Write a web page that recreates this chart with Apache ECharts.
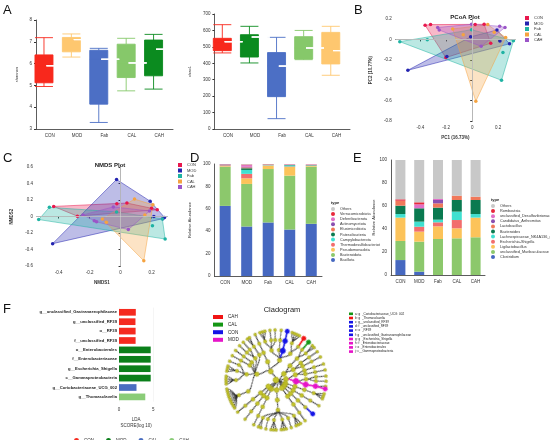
<!DOCTYPE html>
<html>
<head>
<meta charset="utf-8">
<script src="https://cdn.jsdelivr.net/npm/echarts@6/dist/echarts.min.js"></script>
<style>
  body { margin: 0; background: #fff; font-family: 'Liberation Sans', Arial, sans-serif; }
  #wrap { position: relative; width: 550px; height: 440px; overflow: hidden; }
  .p { position: absolute; }
  .lt { position: absolute; font-size: 13px; line-height: 13px; color: #111; }
  #pt { transform: rotate(-127deg); transform-origin: 50% 50%; }
</style>
</head>
<body>
<div id="wrap">
  <div class="p" id="a1" style="left:0;top:0;width:180px;height:145px"></div>
  <div class="p" id="a2" style="left:180px;top:0;width:180px;height:145px"></div>
  <div class="p" id="pb" style="left:360px;top:0;width:190px;height:145px"></div>
  <div class="p" id="pc" style="left:0;top:145px;width:205px;height:145px"></div>
  <div class="p" id="pd" style="left:180px;top:145px;width:200px;height:140px"></div>
  <div class="p" id="pe" style="left:360px;top:145px;width:190px;height:140px"></div>
  <div class="p" id="pf" style="left:0;top:285px;width:200px;height:155px"></div>
  <div class="p" id="pg" style="left:200px;top:285px;width:350px;height:155px"></div>
  <div class="p" id="pt" style="left:223.7px;top:328px;width:104px;height:104px"></div>
  <div class="lt" style="left:3px;top:3px">A</div>
  <div class="lt" style="left:354px;top:3px">B</div>
  <div class="lt" style="left:3px;top:151px">C</div>
  <div class="lt" style="left:190px;top:151px">D</div>
  <div class="lt" style="left:353px;top:151px">E</div>
  <div class="lt" style="left:3px;top:302px">F</div>
</div>
<script>
// ---- alpha diversity (min, Q1, median, Q3, max)
var groups = ['CON', 'MOD', 'Fab', 'CAL', 'CAH'];
var shannon = [[4.95, 5.12, 5.9, 6.4, 7.19], [6.3, 6.54, 7.1, 7.2, 7.36], [3.3, 4.14, 6.2, 6.61, 6.7], [4.75, 5.36, 6.03, 6.89, 7.16], [4.83, 5.44, 6.66, 7.08, 7.34]];
var shannonColors = ['#f8281c', '#fec76f', '#4c6fc5', '#86c86a', '#0b8b1f'];
var chao1 = [[463, 477, 531, 552, 635], [402, 438, 560, 574, 625], [63, 197, 383, 465, 558], [422, 426, 493, 562, 600], [327, 396, 477, 588, 625]];
var chaoColors = ['#f8281c', '#0b8b1f', '#4c6fc5', '#86c86a', '#fec76f'];

// ---- ordination points per group
var ordColors = ['#e8174d', '#2424b0', '#1fb3a3', '#f5a340', '#9b55c8'];
var pcoaCON = [[-0.363, 0.139], [-0.321, 0.145], [0.023, 0.145], [0.092, 0.148], [0.143, -0.037], [-0.203, -0.178]];
var pcoaMOD = [[-0.496, -0.302], [-0.012, 0.025], [0.191, 0.092], [0.214, -0.016], [0.288, -0.043], [-0.195, -0.168]];
var pcoaFab = [[-0.558, -0.022], [-0.346, -0.003], [-0.005, 0.095], [0.318, -0.013], [0.237, -0.129], [0.226, -0.4]];
var pcoaCAL = [[-0.15, 0.102], [-0.069, 0.046], [0.12, 0.145], [0.028, -0.606], [0.258, 0.018], [0.17, 0.07]];
var pcoaCAH = [[-0.266, 0.117], [-0.254, 0.092], [0.212, 0.129], [0.253, 0.117], [0.069, -0.068], [-0.005, 0.148]];
var nmdsCON = [[-0.432, 0.122], [-0.279, 0.004], [-0.024, 0.156], [0.041, 0.163], [0.237, 0.082], [0.2, 0.1]];
var nmdsMOD = [[-0.026, 0.449], [-0.439, -0.329], [0.191, 0.186], [0.215, 0], [0.273, -0.026], [0.284, -0.011]];
var nmdsFab = [[-0.529, -0.037], [-0.46, 0.111], [-0.026, 0.056], [0.288, -0.273], [0.206, -0.111], [0.27, -0.03]];
var nmdsCAL = [[0.09, 0.211], [-0.118, -0.029], [-0.092, -0.07], [0.157, 0.019], [0.15, -0.537], [0.209, 0.141]];
var nmdsCAH = [[-0.047, 0.116], [-0.243, 0.019], [0.05, -0.159], [0.187, 0.067], [-0.17, -0.05], [-0.155, -0.065]];

// ---- phylum relative abundance (%), bottom of stack first
var phyla = ['Bacillota', 'Bacteroidota', 'Pseudomonadota', 'Thermodesulfobacteriota', 'Campylobacterota', 'Patescibacteria', 'Elusimicrobiota', 'Actinomycetota', 'Deferribacterota', 'Verrucomicrobiota', 'Others'];
var phylumValues = [
  [62.6, 44.2, 47.8, 41.5, 46.6],
  [35.0, 38.0, 47.7, 48.1, 51.0],
  [0.5, 5.0, 3.0, 7.7, 0.6],
  [0.8, 4.0, 0.3, 0.5, 0.4],
  [0.3, 3.5, 0.3, 1.0, 0.3],
  [0.2, 1.5, 0.2, 0.4, 0.2],
  [0.1, 0.8, 0.3, 0.2, 0.2],
  [0.1, 0.5, 0.1, 0.1, 0.1],
  [0.3, 1.5, 0.1, 0.3, 0.3],
  [0.1, 0.5, 0.1, 0.1, 0.1],
  [0.0, 0.5, 0.1, 0.1, 0.2]
];
// ---- genus relative abundance (%), bottom of stack first
var genera = ['Clostridium', 'unclassified_Muribaculaceae', 'Ligilactobacillus', 'Escherichia-Shigella', 'Lachnospiraceae_NK4A136_group', 'Bacteroides', 'Lactobacillus', 'Candidatus_Arthromitus', 'unclassified_Desulfovibrionaceae', 'Romboutsia', 'Others'];
var genusValues = [
  [13.0, 2.9, 0, 0, 0],
  [16.6, 26.1, 31.3, 31.9, 32.8],
  [20.3, 8.7, 11.0, 8.7, 17.1],
  [0, 4.3, 3.5, 7.2, 0],
  [3.1, 4.4, 2.3, 7.3, 3.1],
  [7.3, 11.6, 10.5, 10.1, 12.2],
  [4.3, 0, 3.7, 3.8, 2.9],
  [0, 0, 2.9, 0, 0],
  [0, 3.4, 0.9, 0, 0],
  [1.2, 1.8, 0, 0, 0],
  [34.2, 36.8, 33.9, 31.0, 31.9]
];
var stackColors = ['#4668c0', '#8cc86c', '#fcc35a', '#f26d6d', '#40e0d0', '#0a7a50', '#f0785a', '#8a4fb0', '#e070c8', '#e8283c', '#c8c8c8'];

// ---- LEfSe
var ldaFeatures = ['g__unclassified_Gastranaerophilaceae', 'g__unclassified_RF39', 'o__RF39', 'f__unclassified_RF39', 'o__Enterobacterales', 'f__Enterobacteriaceae', 'g__Escherichia_Shigella', 'c__Gammaproteobacteria', 'g__Coriobacteriaceae_UCG_002', 'g__Thomasclavelia'];
var ldaScores = [2.45, 2.4, 2.42, 2.42, 4.62, 4.62, 4.6, 4.62, 2.55, 3.83];
var ldaGroup = ['CON', 'CON', 'CON', 'CON', 'MOD', 'MOD', 'MOD', 'MOD', 'CAL', 'CAH'];
var ldaGroups = ['CON', 'MOD', 'CAL', 'CAH'];
var ldaColors = ['#f52a1f', '#0a7f1a', '#4a6dc0', '#8acc78'];

// ---- cladogram: lineages (phylum/class/order/family/genus)
var lineages = [
  'p__Bacillota/c__Clostridia/o__Lachnospirales/f__Lachnospiraceae/g__Lachnospiraceae_NK4A136_group',
  'p__Bacillota/c__Clostridia/o__Lachnospirales/f__Lachnospiraceae/g__Roseburia',
  'p__Bacillota/c__Clostridia/o__Lachnospirales/f__Lachnospiraceae/g__Blautia',
  'p__Bacillota/c__Clostridia/o__Lachnospirales/f__Lachnospiraceae/g__Dorea',
  'p__Bacillota/c__Clostridia/o__Lachnospirales/f__Lachnospiraceae/g__Lachnoclostridium',
  'p__Bacillota/c__Clostridia/o__Lachnospirales/f__Lachnospiraceae/g__Tyzzerella',
  'p__Bacillota/c__Clostridia/o__Lachnospirales/f__Lachnospiraceae/g__Anaerostipes',
  'p__Bacillota/c__Clostridia/o__Lachnospirales/f__Lachnospiraceae/g__Acetatifactor',
  'p__Bacillota/c__Clostridia/o__Lachnospirales/f__Lachnospiraceae/g__unclassified_Lachnospiraceae',
  'p__Bacillota/c__Clostridia/o__Oscillospirales/f__Oscillospiraceae/g__Oscillibacter',
  'p__Bacillota/c__Clostridia/o__Oscillospirales/f__Oscillospiraceae/g__Colidextribacter',
  'p__Bacillota/c__Clostridia/o__Oscillospirales/f__Oscillospiraceae/g__Intestinimonas',
  'p__Bacillota/c__Clostridia/o__Oscillospirales/f__Oscillospiraceae/g__NK4A214_group',
  'p__Bacillota/c__Clostridia/o__Oscillospirales/f__Ruminococcaceae/g__Ruminococcus',
  'p__Bacillota/c__Clostridia/o__Oscillospirales/f__Ruminococcaceae/g__Faecalibacterium',
  'p__Bacillota/c__Clostridia/o__Oscillospirales/f__Ruminococcaceae/g__Anaerotruncus',
  'p__Bacillota/c__Clostridia/o__Oscillospirales/f__Butyricicoccaceae/g__Butyricicoccus',
  'p__Bacillota/c__Clostridia/o__Christensenellales/f__Christensenellaceae/g__Christensenellaceae_R_7_group',
  'p__Bacillota/c__Clostridia/o__Monoglobales/f__Monoglobaceae/g__Monoglobus',
  'p__Bacillota/c__Clostridia/o__Peptostreptococcales/f__Peptostreptococcaceae/g__Romboutsia',
  'p__Bacillota/c__Clostridia/o__Peptostreptococcales/f__Anaerovoracaceae/g__Family_XIII_AD3011_group',
  'p__Bacillota/c__Clostridia/o__Clostridiales/f__Clostridiaceae/g__Clostridium',
  'p__Bacillota/c__Clostridia/o__Clostridiales/f__Clostridiaceae/g__Candidatus_Arthromitus',
  'p__Bacillota/c__Negativicutes/o__Veillonellales/f__Veillonellaceae/g__Veillonella',
  'p__Bacillota/c__Bacilli/o__Lactobacillales/f__Lactobacillaceae/g__Lactobacillus',
  'p__Bacillota/c__Bacilli/o__Lactobacillales/f__Lactobacillaceae/g__Ligilactobacillus',
  'p__Bacillota/c__Bacilli/o__Lactobacillales/f__Lactobacillaceae/g__Limosilactobacillus',
  'p__Bacillota/c__Bacilli/o__Lactobacillales/f__Streptococcaceae/g__Streptococcus',
  'p__Bacillota/c__Bacilli/o__Lactobacillales/f__Enterococcaceae/g__Enterococcus',
  'p__Bacillota/c__Bacilli/o__Acholeplasmatales/f__Acholeplasmataceae/g__Anaeroplasma',
  'p__Bacillota/c__Bacilli/o__RF39/f__unclassified_RF39/g__unclassified_RF39',
  'p__Bacillota/c__Bacilli/o__Erysipelotrichales/f__Erysipelotrichaceae/g__Turicibacter',
  'p__Bacillota/c__Bacilli/o__Erysipelotrichales/f__Erysipelotrichaceae/g__Dubosiella',
  'p__Bacillota/c__Bacilli/o__Erysipelotrichales/f__Erysipelotrichaceae/g__Faecalibaculum',
  'p__Bacillota/c__Bacilli/o__Erysipelotrichales/f__Erysipelotrichaceae/g__Allobaculum',
  'p__Bacillota/c__Bacilli/o__Erysipelotrichales/f__Coprobacillaceae/g__Thomasclavelia',
  'p__Actinomycetota/c__Coriobacteriia/o__Coriobacteriales/f__Coriobacteriaceae/g__Coriobacteriaceae_UCG_002',
  'p__Actinomycetota/c__Coriobacteriia/o__Coriobacteriales/f__Eggerthellaceae/g__Enterorhabdus',
  'p__Actinomycetota/c__Coriobacteriia/o__Coriobacteriales/f__Eggerthellaceae/g__Adlercreutzia',
  'p__Actinomycetota/c__Actinobacteria/o__Bifidobacteriales/f__Bifidobacteriaceae/g__Bifidobacterium',
  'p__Actinomycetota/c__Actinobacteria/o__Corynebacteriales/f__Corynebacteriaceae/g__Corynebacterium',
  'p__Pseudomonadota/c__Alphaproteobacteria/o__Rhodospirillales/f__uncultured/g__uncultured_Rhodospirillales',
  'p__Pseudomonadota/c__Alphaproteobacteria/o__Rickettsiales/f__Mitochondria/g__unclassified_Mitochondria',
  'p__Pseudomonadota/c__Gammaproteobacteria/o__Burkholderiales/f__Sutterellaceae/g__Parasutterella',
  'p__Pseudomonadota/c__Gammaproteobacteria/o__Burkholderiales/f__Oxalobacteraceae/g__Massilia',
  'p__Pseudomonadota/c__Gammaproteobacteria/o__Enterobacterales/f__Enterobacteriaceae/g__Klebsiella',
  'p__Pseudomonadota/c__Gammaproteobacteria/o__Enterobacterales/f__Enterobacteriaceae/g__Escherichia_Shigella',
  'p__Desulfobacterota/c__Desulfovibrionia/o__Desulfovibrionales/f__Desulfovibrionaceae/g__Desulfovibrio',
  'p__Desulfobacterota/c__Desulfovibrionia/o__Desulfovibrionales/f__Desulfovibrionaceae/g__Bilophila',
  'p__Desulfobacterota/c__Desulfovibrionia/o__Desulfovibrionales/f__Desulfovibrionaceae/g__unclassified_Desulfovibrionaceae',
  'p__Campylobacterota/c__Campylobacteria/o__Campylobacterales/f__Helicobacteraceae/g__Helicobacter',
  'p__Cyanobacteria/c__Vampirivibrionia/o__Gastranaerophilales/f__Gastranaerophilaceae/g__unclassified_Gastranaerophilaceae',
  'p__Deferribacterota/c__Deferribacteres/o__Deferribacterales/f__Deferribacteraceae/g__Mucispirillum',
  'p__Bacteroidota/c__Bacteroidia/o__Bacteroidales/f__Muribaculaceae/g__unclassified_Muribaculaceae',
  'p__Bacteroidota/c__Bacteroidia/o__Bacteroidales/f__Muribaculaceae/g__Muribaculum',
  'p__Bacteroidota/c__Bacteroidia/o__Bacteroidales/f__Muribaculaceae/g__Duncaniella',
  'p__Bacteroidota/c__Bacteroidia/o__Bacteroidales/f__Bacteroidaceae/g__Bacteroides',
  'p__Bacteroidota/c__Bacteroidia/o__Bacteroidales/f__Rikenellaceae/g__Alistipes',
  'p__Bacteroidota/c__Bacteroidia/o__Bacteroidales/f__Rikenellaceae/g__Rikenella',
  'p__Bacteroidota/c__Bacteroidia/o__Bacteroidales/f__Rikenellaceae/g__Rikenellaceae_RC9_gut_group',
  'p__Bacteroidota/c__Bacteroidia/o__Bacteroidales/f__Prevotellaceae/g__Prevotellaceae_UCG_001',
  'p__Bacteroidota/c__Bacteroidia/o__Bacteroidales/f__Prevotellaceae/g__Alloprevotella',
  'p__Bacteroidota/c__Bacteroidia/o__Bacteroidales/f__Prevotellaceae/g__Prevotellaceae_NK3B31_group',
  'p__Bacteroidota/c__Bacteroidia/o__Bacteroidales/f__Tannerellaceae/g__Parabacteroides',
  'p__Bacteroidota/c__Bacteroidia/o__Bacteroidales/f__Marinifilaceae/g__Odoribacter',
  'p__Bacteroidota/c__Bacteroidia/o__Bacteroidales/f__Marinifilaceae/g__Butyricimonas',
  'p__Patescibacteria/c__Saccharimonadia/o__Saccharimonadales/f__Saccharimonadaceae/g__Candidatus_Saccharimonas',
  'p__Elusimicrobiota/c__Elusimicrobia/o__Elusimicrobiales/f__Elusimicrobiaceae/g__Elusimicrobium',
  'p__Verrucomicrobiota/c__Verrucomicrobiae/o__Verrucomicrobiales/f__Akkermansiaceae/g__Akkermansia'
];
var cladoGroups = ['CAH', 'CAL', 'CON', 'MOD'];
var cladoColors = ['#f01414', '#149614', '#1414e6', '#e614c8'];
var cladoMarked = {
  'g__Coriobacteriaceae_UCG_002': 'CAL', 'g__Thomasclavelia': 'CAH',
  'g__unclassified_RF39': 'CON', 'f__unclassified_RF39': 'CON', 'o__RF39': 'CON', 'g__unclassified_Gastranaerophilaceae': 'CON',
  'g__Escherichia_Shigella': 'MOD', 'f__Enterobacteriaceae': 'MOD', 'o__Enterobacterales': 'MOD', 'c__Gammaproteobacteria': 'MOD'
};
var cladoKey = ['a: g__Coriobacteriaceae_UCG_002', 'b: g__Thomasclavelia', 'c: g__unclassified_RF39', 'd: f__unclassified_RF39', 'e: o__RF39', 'f: g__unclassified_Gastranaerophilaceae', 'g: g__Escherichia_Shigella', 'h: f__Enterobacteriaceae', 'i: o__Enterobacterales', 'j: c__Gammaproteobacteria'];

var FONT = 'Liberation Sans';
var AX = '#333';

function mk(id, opt) {
  var c = echarts.init(document.getElementById(id));
  opt.animation = false;
  opt.textStyle = { fontFamily: FONT };
  c.setOption(opt);
  return c;
}

// box plots: white median drawn by a second, flat boxplot
function boxOption(grid, vals, colors, yname, ymin, ymax, step, nameGap) {
  return {
    grid: grid,
    xAxis: {
      type: 'category', data: groups,
      axisLine: { lineStyle: { color: AX, width: 0.8 } },
      axisTick: { alignWithLabel: true, length: 2 },
      axisLabel: { fontSize: 4.5, color: AX, margin: 4 }
    },
    yAxis: {
      type: 'value', min: ymin, max: ymax, interval: step,
      name: yname, nameLocation: 'middle', nameGap: nameGap,
      nameTextStyle: { fontSize: 4, color: AX },
      splitLine: { show: false },
      axisLine: { show: true, lineStyle: { color: AX, width: 0.8 } },
      axisTick: { show: true, length: 2 },
      axisLabel: { fontSize: 4.5, color: AX, margin: 4 }
    },
    series: [
      {
        type: 'boxplot', boxWidth: [18, 18],
        data: vals.map(function (v, i) {
          return { value: v, itemStyle: { color: colors[i], borderColor: colors[i], borderWidth: 0.9 } };
        })
      },
      {
        type: 'boxplot', boxWidth: [18, 18], z: 3,
        itemStyle: { color: '#fff', borderColor: '#fff', borderWidth: 0.8 },
        data: vals.map(function (v) { return [v[2], v[2], v[2], v[2], v[2]]; })
      }
    ]
  };
}

mk('a1', boxOption({ left: 36, top: 20, width: 137, height: 109 }, shannon, shannonColors, 'shannon', 3, 8, 1, 9));
mk('a2', boxOption({ left: 27, top: 14, width: 143, height: 115 }, chao1, chaoColors, 'chao1', 0, 700, 100, 15));

function hull(pts) {
  var p = pts.slice().sort(function (a, b) { return a[0] - b[0] || a[1] - b[1]; });
  function cross(o, a, b) { return (a[0] - o[0]) * (b[1] - o[1]) - (a[1] - o[1]) * (b[0] - o[0]); }
  var lo = [], up = [];
  p.forEach(function (q) {
    while (lo.length >= 2 && cross(lo[lo.length - 2], lo[lo.length - 1], q) <= 0) lo.pop();
    lo.push(q);
  });
  p.slice().reverse().forEach(function (q) {
    while (up.length >= 2 && cross(up[up.length - 2], up[up.length - 1], q) <= 0) up.pop();
    up.push(q);
  });
  lo.pop(); up.pop();
  return lo.concat(up);
}

function ordOption(o) {
  var series = [];
  o.data.forEach(function (pts, i) {
    var col = ordColors[i];
    series.push({
      type: 'custom', name: groups[i], data: pts, silent: true, z: 1,
      encode: { x: 0, y: 1 }, itemStyle: { color: col },
      renderItem: function (params, api) {
        if (params.dataIndex !== 0) return null;
        return {
          type: 'polygon',
          shape: { points: hull(pts).map(function (p) { return api.coord(p); }) },
          style: { fill: echarts.color.modifyAlpha(col, 0.3), stroke: echarts.color.modifyAlpha(col, 0.85), lineWidth: 0.6 }
        };
      }
    });
  });
  o.data.forEach(function (pts, i) {
    var s = { type: 'scatter', name: groups[i], data: pts, symbolSize: 3.5, z: 4, itemStyle: { color: ordColors[i], opacity: 1 } };
    if (i === 0) {
      s.markLine = {
        silent: true, symbol: 'none', label: { show: false },
        lineStyle: { color: '#cfcfcf', type: 'solid', width: 0.8 },
        data: [{ xAxis: 0 }, { yAxis: 0 }]
      };
    }
    series.push(s);
  });
  return {
    title: { text: o.title, left: o.titleX, top: o.titleY, textAlign: 'center', textStyle: { fontSize: 6, fontWeight: 'bold', color: '#222' } },
    legend: {
      data: groups, orient: 'vertical', left: o.legX, top: o.legY, icon: 'rect',
      itemWidth: 4, itemHeight: 4, itemGap: 1.5, textStyle: { fontSize: 4, color: AX }
    },
    grid: o.grid,
    xAxis: {
      type: 'value', min: o.xmin, max: o.xmax, name: o.xname, nameLocation: 'middle', nameGap: o.xgap,
      nameTextStyle: { fontSize: 4.5, fontWeight: 'bold', color: AX },
      splitLine: { show: false }, axisLine: { show: true, lineStyle: { color: AX, width: 0.8 } },
      axisTick: { length: 2 },
      axisLabel: { fontSize: 4.5, color: AX, margin: 4, showMinLabel: false, showMaxLabel: false }
    },
    yAxis: {
      type: 'value', min: o.ymin, max: o.ymax, interval: 0.2, name: o.yname, nameLocation: 'middle', nameGap: o.ygap,
      nameTextStyle: { fontSize: 4.5, fontWeight: 'bold', color: AX },
      splitLine: { show: false }, axisLine: { show: true, lineStyle: { color: AX, width: 0.8 } },
      axisTick: { length: 2 },
      axisLabel: { fontSize: 4.5, color: AX, margin: 4 }
    },
    series: series
  };
}

mk('pb', ordOption({
  title: 'PCoA Plot', titleX: 100, titleY: 9,
  legX: 160, legY: 11,
  grid: { left: 21, top: 19, width: 134, height: 109 },
  xmin: -0.59, xmax: 0.33, ymin: -0.8, ymax: 0.2,
  xname: 'PC1 (16.73%)', xgap: 12, yname: 'PC2 (10.77%)', ygap: 13,
  data: [pcoaCON, pcoaMOD, pcoaFab, pcoaCAL, pcoaCAH]
}));

mk('pc', ordOption({
  title: 'NMDS Plot', titleX: 105, titleY: 12,
  legX: 173, legY: 13,
  grid: { left: 37, top: 22, width: 130, height: 110 },
  xmin: -0.54, xmax: 0.3, ymin: -0.6, ymax: 0.6,
  xname: 'NMDS1', xgap: 14, yname: 'NMDS2', ygap: 11,
  data: [nmdsCON, nmdsMOD, nmdsFab, nmdsCAL, nmdsCAH]
}));

function stackOption(o) {
  return {
    title: { text: 'type', left: o.legX, top: o.legY - 6, textStyle: { fontSize: 4, fontWeight: 'bold', color: '#222' } },
    legend: {
      data: o.names.slice().reverse(), orient: 'vertical', left: o.legX, top: o.legY, icon: 'circle',
      itemWidth: 4, itemHeight: 4, itemGap: 1.1, textStyle: { fontSize: 3.8, color: AX }
    },
    grid: o.grid,
    xAxis: {
      type: 'category', data: groups,
      axisLine: { lineStyle: { color: AX, width: 0.8 } },
      axisTick: { alignWithLabel: true, length: 2 },
      axisLabel: { fontSize: 4.5, color: AX, margin: 4 }
    },
    yAxis: {
      type: 'value', min: 0, max: 100, interval: 20, name: 'Relative Abundance', nameLocation: 'middle', nameGap: o.ygap,
      nameTextStyle: { fontSize: 4, color: AX },
      splitLine: { show: false }, axisLine: { show: true, lineStyle: { color: AX, width: 0.8 } },
      axisTick: { length: 2 },
      axisLabel: { fontSize: 4.5, color: AX, margin: 4 }
    },
    series: o.names.map(function (n, i) {
      return { type: 'bar', name: n, stack: 'ab', barWidth: o.barW, data: o.values[i], itemStyle: { color: stackColors[i] } };
    })
  };
}

mk('pd', stackOption({ names: phyla, values: phylumValues, grid: { left: 32, top: 19, width: 110, height: 112 }, barW: 11, legX: 146, legY: 57, ygap: 13 }));
mk('pe', stackOption({ names: genera, values: genusValues, grid: { left: 31, top: 15, width: 94, height: 115 }, barW: 10, legX: 126, legY: 54, ygap: 13 }));

// LEfSe bar chart
mk('pf', {
  legend: {
    data: ldaGroups, left: 69, top: 148, icon: 'circle', itemWidth: 5, itemHeight: 5, itemGap: 12,
    textStyle: { fontSize: 4.5, color: AX }
  },
  grid: { left: 119, top: 22.6, width: 34.3, height: 94 },
  xAxis: {
    type: 'value', min: 0, max: 5, interval: 5, name: 'LDA\nSCORE(log 10)', nameLocation: 'middle', nameGap: 14,
    nameTextStyle: { fontSize: 4.5, color: AX, lineHeight: 5.5 },
    axisLine: { show: false }, axisTick: { show: false },
    splitLine: { show: true, lineStyle: { color: '#eeeeee', width: 0.6 } },
    axisLabel: { fontSize: 4.5, color: AX, margin: 6 }
  },
  yAxis: {
    type: 'category', data: ldaFeatures, inverse: true,
    axisLine: { show: false }, axisTick: { show: false },
    axisLabel: { fontSize: 4.2, fontWeight: 'bold', color: '#222', margin: 2 }
  },
  series: ldaGroups.map(function (g, k) {
    return {
      type: 'bar', name: g, barWidth: 6.7, barGap: '-100%', itemStyle: { color: ldaColors[k] },
      data: ldaScores.map(function (v, i) { return ldaGroup[i] === g ? v : '-'; })
    };
  })
});

// cladogram built from the lineage list
function buildTree() {
  var root = { name: 'Bacteria', children: [] };
  lineages.forEach(function (l) {
    var node = root;
    l.split('/').forEach(function (n) {
      var c = node.children.filter(function (x) { return x.name === n; })[0];
      if (!c) { c = { name: n, children: [] }; node.children.push(c); }
      node = c;
    });
  });
  var sizes = [6, 5, 4.5, 4, 3.5, 3];
  (function style(n, d) {
    var g = cladoMarked[n.name];
    var col = g ? cladoColors[cladoGroups.indexOf(g)] : '#c4c42a';
    n.symbolSize = sizes[d] + (g ? 1.5 : 0);
    n.itemStyle = { color: col, borderColor: g ? col : '#8c8c14', borderWidth: 0.4 };
    if (g && d > 0) n.lineStyle = { color: col, width: 1.6 };
    if (n.children.length) n.children.forEach(function (c) { style(c, d + 1); });
    else delete n.children;
  })(root, 0);
  return root;
}

var cladoGraphic = [];
cladoGroups.forEach(function (g, i) {
  cladoGraphic.push({ type: 'rect', left: 13, top: 30 + i * 7.6, shape: { width: 10, height: 4 }, style: { fill: cladoColors[i] } });
  cladoGraphic.push({ type: 'text', left: 28, top: 29.6 + i * 7.6, style: { text: g, fontSize: 4.6, fill: '#222', fontFamily: FONT } });
});
cladoKey.forEach(function (t, i) {
  var g = cladoMarked[t.split(': ')[1]];
  cladoGraphic.push({ type: 'rect', left: 149, top: 27.5 + i * 4.2, shape: { width: 4, height: 2.6 }, style: { fill: cladoColors[cladoGroups.indexOf(g)] } });
  cladoGraphic.push({ type: 'text', left: 155, top: 27.3 + i * 4.2, style: { text: t, fontSize: 3.1, fill: '#222', fontFamily: FONT } });
});

mk('pg', {
  title: { text: 'Cladogram', left: 77, top: 16, textAlign: 'center', textStyle: { fontSize: 7.5, fontWeight: 'normal', color: '#222' } },
  graphic: cladoGraphic
});

// the tree sits in its own (rotated) box so its first clade starts where the figure's does
mk('pt', {
  series: [{
    type: 'tree', data: [buildTree()], layout: 'radial',
    left: 2, top: 2, width: 100, height: 100,
    symbol: 'circle', roam: false, expandAndCollapse: false, initialTreeDepth: -1,
    label: { show: false }, leaves: { label: { show: false } },
    lineStyle: { color: '#1a1a1a', width: 0.9, curveness: 0.5 },
    emphasis: { disabled: true }
  }]
});
</script>
</body>
</html>
